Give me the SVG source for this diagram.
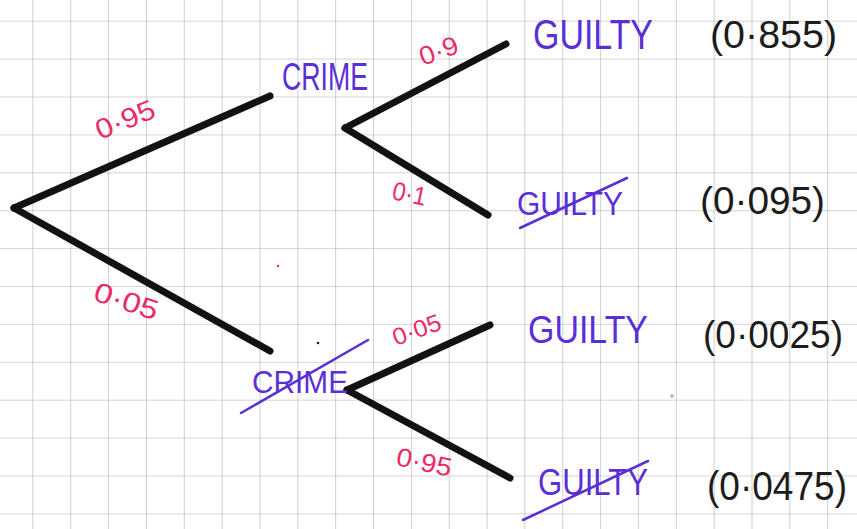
<svg xmlns="http://www.w3.org/2000/svg" width="857" height="529" viewBox="0 0 857 529">
<defs>
<pattern id="grid" x="-4.5" y="-16.2" width="37.85" height="37.9" patternUnits="userSpaceOnUse">
<path d="M37.85 0V37.9M0 37.9H37.85" fill="none" stroke="#a9a9a9" stroke-width="1.1"/>
</pattern>
</defs>
<style>
.br{stroke:#121212;stroke-width:7;stroke-linecap:round;fill:none}
.p{fill:#ec2a66;font-family:"Liberation Sans",Arial,sans-serif}
.lbl{fill:#5a2fd4;font-family:"Liberation Sans",Arial,sans-serif}
.res{fill:#1c1c1c;font-family:"Liberation Sans",Arial,sans-serif}
.strike{stroke:#5a2fd4;stroke-width:2.5;stroke-linecap:round}
</style>
<rect width="857" height="529" fill="#ffffff"/>
<rect width="857" height="529" fill="url(#grid)"/>
<circle cx="278" cy="266" r="1.2" fill="#ec2a66"/>
<circle cx="318" cy="343" r="1.3" fill="#222"/>
<circle cx="672" cy="396" r="2" fill="#bbb"/>
<g id="connectors">
<line class="br" x1="14" y1="208" x2="270" y2="96"/>
<line class="br" x1="14" y1="208" x2="270" y2="351"/>
<line class="br" x1="345" y1="128" x2="506" y2="44" stroke-width="8"/>
<line class="br" x1="345" y1="128" x2="488" y2="215" stroke-width="6"/>
<line class="br" x1="347" y1="390" x2="490" y2="325"/>
<line class="br" x1="347" y1="390" x2="510" y2="478"/>
<text class="p" font-size="28" transform="translate(100,140) rotate(-22)" textLength="62" lengthAdjust="spacingAndGlyphs">0·95</text>
<text class="p" font-size="28" transform="translate(92,300) rotate(18)" textLength="66" lengthAdjust="spacingAndGlyphs">0·05</text>
<text class="p" font-size="26" transform="translate(423,66) rotate(-20)" textLength="40" lengthAdjust="spacingAndGlyphs">0·9</text>
<text class="p" font-size="26" transform="translate(391,199) rotate(12)" textLength="34" lengthAdjust="spacingAndGlyphs">0·1</text>
<text class="p" font-size="24" transform="translate(396,346) rotate(-20)" textLength="50" lengthAdjust="spacingAndGlyphs">0·05</text>
<text class="p" font-size="26" transform="translate(395,465) rotate(12)" textLength="56" lengthAdjust="spacingAndGlyphs">0·95</text>
</g>
<g id="root"></g>
<g id="crime">
<text class="lbl" x="282" y="90" font-size="38" textLength="86" lengthAdjust="spacingAndGlyphs">CRIME</text>
</g>
<g id="not-crime">
<text class="lbl" x="252" y="393" font-size="32" textLength="96" lengthAdjust="spacingAndGlyphs">CRIME</text>
<line class="strike" x1="241" y1="413" x2="368" y2="340"/>
</g>
<g id="leaf1">
<text class="lbl" x="533" y="49" font-size="42" textLength="120" lengthAdjust="spacingAndGlyphs">GUILTY</text>
<text class="res" x="710" y="48" font-size="38" textLength="127" lengthAdjust="spacingAndGlyphs">(0·855)</text>
</g>
<g id="leaf2">
<text class="lbl" x="517" y="215" font-size="34" textLength="106" lengthAdjust="spacingAndGlyphs">GUILTY</text>
<line class="strike" x1="520" y1="228" x2="627" y2="178"/>
<text class="res" x="700" y="214" font-size="38" textLength="125" lengthAdjust="spacingAndGlyphs">(0·095)</text>
</g>
<g id="leaf3">
<text class="lbl" x="528" y="343" font-size="38" textLength="120" lengthAdjust="spacingAndGlyphs">GUILTY</text>
<text class="res" x="703" y="348" font-size="38" textLength="140" lengthAdjust="spacingAndGlyphs">(0·0025)</text>
</g>
<g id="leaf4">
<text class="lbl" x="538" y="495" font-size="36" textLength="110" lengthAdjust="spacingAndGlyphs">GUILTY</text>
<line class="strike" x1="523" y1="520" x2="648" y2="461"/>
<text class="res" x="707" y="500" font-size="40" textLength="140" lengthAdjust="spacingAndGlyphs">(0·0475)</text>
</g>
</svg>
